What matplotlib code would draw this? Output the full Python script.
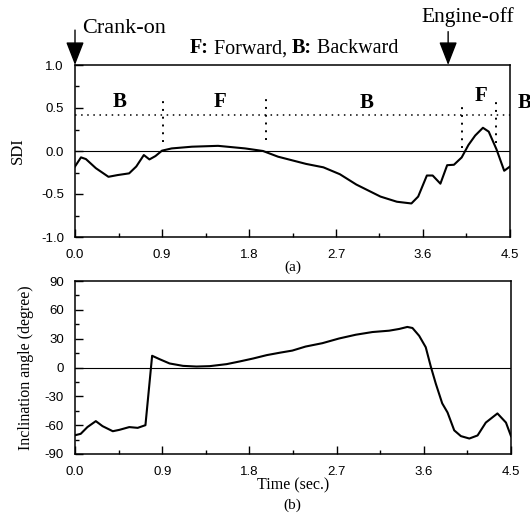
import matplotlib
matplotlib.use("Agg")
import matplotlib.pyplot as plt
from matplotlib.ticker import MultipleLocator

# ---- data ----
sdi_t = [0, 0.062, 0.113, 0.216, 0.346, 0.44, 0.56, 0.634, 0.712, 0.77, 0.832, 0.9,
         1.0, 1.21, 1.48, 1.76, 1.945, 2.1, 2.39, 2.57, 2.74, 2.91, 3.16, 3.33, 3.48,
         3.55, 3.64, 3.70, 3.78, 3.85, 3.92, 4.0, 4.07, 4.14, 4.22, 4.28, 4.36, 4.44, 4.5]
sdi_v = [-0.18, -0.074, -0.094, -0.2, -0.30, -0.28, -0.26, -0.18, -0.047, -0.098, -0.059, 0.004,
         0.03, 0.05, 0.06, 0.03, 0.0, -0.066, -0.15, -0.19, -0.27, -0.39, -0.53, -0.59, -0.61,
         -0.53, -0.285, -0.285, -0.38, -0.165, -0.16, -0.075, 0.07, 0.18, 0.27, 0.225, 0.02, -0.23, -0.18]

ang_t = [0, 0.059, 0.128, 0.215, 0.284, 0.39, 0.457, 0.56, 0.647, 0.727, 0.796, 0.872, 0.976,
         1.115, 1.253, 1.39, 1.565, 1.70, 1.84, 1.98, 2.12, 2.243, 2.38, 2.553, 2.726, 2.898,
         3.07, 3.242, 3.346, 3.43, 3.483, 3.552, 3.62, 3.673, 3.724, 3.79, 3.845, 3.914, 3.983,
         4.07, 4.155, 4.24, 4.36, 4.448, 4.5]
ang_v = [-70.5, -69, -62, -55.8, -61, -66.3, -64.9, -62, -62.8, -60, 12.2, 8.7, 4.2,
         1.7, 1.0, 1.4, 3.5, 6.3, 9.4, 12.9, 15.5, 17.6, 21.8, 25.3, 30.2, 34.1,
         36.9, 38.3, 40.1, 42.2, 41.1, 33, 21.1, 0.7, -16.9, -37.3, -46.8, -65.4, -71.4,
         -73.9, -70.7, -57.3, -47.8, -57.3, -71.4]

threshold = 0.42
boundaries_x = [0.91, 1.98, 4.0, 4.36]
boundaries_lo = [0.11, 0.13, 0.03, 0.09]
boundaries_hi = [0.63, 0.66, 0.53, 0.58]
seg_labels = ['B', 'F', 'B', 'F', 'B']
seg_x = [0.46, 1.5, 3.02, 4.2, 4.58]
seg_y = [0.57, 0.57, 0.56, 0.64, 0.56]
seg_ha = ['center', 'center', 'center', 'center', 'left']

crank_x = 0.0
engine_x = 3.86
legend_parts = [('F:', 'bold'), (' Forward, ', 'normal'), ('B:', 'bold'), (' Backward', 'normal')]

xticks = [0.0, 0.9, 1.8, 2.7, 3.6, 4.5]
sdi_ticks = [-1.0, -0.5, 0.0, 0.5, 1.0]
ang_ticks = [-90, -60, -30, 0, 30, 60, 90]

# ---- figure ----
fig = plt.figure(figsize=(5.30, 5.22), dpi=100)
W, H = 530, 522
ax1 = fig.add_axes([75 / W, 1 - 237 / H, 435 / W, 172 / H])
ax2 = fig.add_axes([75 / W, 1 - 454 / H, 436 / W, 173 / H])

tickfont = dict(family='Liberation Sans', size=9.5)
serif = 'Liberation Serif'

for ax in (ax1, ax2):
    ax.set_xlim(0, 4.5)
    ax.set_xticks(xticks)
    ax.set_xticklabels([f'{v:.1f}' for v in xticks], fontdict=tickfont)
    ax.xaxis.set_minor_locator(MultipleLocator(0.45))
    ax.tick_params(which='both', direction='in', top=False, right=False, width=1.0)
    ax.tick_params(which='major', length=6)
    ax.tick_params(which='minor', length=3)
    ax.tick_params(axis='x', which='both', pad=8.5)
    ax.tick_params(axis='y', which='both', pad=8)
    for s in ax.spines.values():
        s.set_linewidth(1.1)

# top panel
ax1.set_ylim(-1.0, 1.0)
ax1.set_yticks(sdi_ticks)
ax1.set_yticklabels([f'{v:.1f}' for v in sdi_ticks], fontdict=tickfont)
ax1.yaxis.set_minor_locator(MultipleLocator(0.25))
ax1.axhline(0, color='k', lw=0.8)
ax1.plot(sdi_t, sdi_v, color='k', lw=1.5)
ax1.axhline(threshold, color='k', lw=1.1, ls=(0, (1, 3)))
for bx, lo, hi in zip(boundaries_x, boundaries_lo, boundaries_hi):
    ax1.plot([bx, bx], [lo, hi], color='k', lw=1.4, ls=(0, (1, 3)))
for lab, x, y, ha in zip(seg_labels, seg_x, seg_y, seg_ha):
    ax1.text(x, y, lab, family=serif, weight='bold', fontsize=15, ha=ha, va='center',
             clip_on=False)
ax1.set_ylabel('SDI', family=serif, fontsize=12, labelpad=11)
ax1.set_xlabel('(a)', family=serif, fontsize=11, labelpad=0)

tr = ax1.get_xaxis_transform()
arrow = dict(arrowstyle='-|>,head_length=0.9,head_width=0.35', color='k', lw=1.0,
             shrinkA=0, shrinkB=0, mutation_scale=16)
ax1.annotate('', xy=(crank_x, 1.0), xytext=(crank_x, 1.203), xycoords=tr, textcoords=tr,
             arrowprops=arrow, annotation_clip=False)
ax1.annotate('', xy=(engine_x, 1.0), xytext=(engine_x, 1.194), xycoords=tr, textcoords=tr,
             arrowprops=arrow, annotation_clip=False)
ax1.text(0.0154, 1.184, 'Crank-on', transform=ax1.transAxes, family=serif, fontsize=16,
         ha='left', va='baseline')
ax1.text(0.902, 1.252, 'Engine-off', transform=ax1.transAxes, family=serif, fontsize=15.5,
         ha='center', va='baseline')

# composite legend text with bold parts, centred
renderer = fig.canvas.get_renderer()
pieces = []
for txt, wt in legend_parts:
    t = fig.text(0, 0, txt, family=serif, weight=wt, fontsize=14.5, va='baseline')
    pieces.append(t)
widths = [p.get_window_extent(renderer).width for p in pieces]
total = sum(widths)
x0 = 294 - total / 2.0
ybase = H - 53.3
acc = 0.0
for p, w in zip(pieces, widths):
    p.set_transform(fig.dpi_scale_trans)
    p.set_position(((x0 + acc) / 100.0, ybase / 100.0))
    acc += w

# bottom panel
ax2.set_ylim(-90, 90)
ax2.set_yticks(ang_ticks)
ax2.set_yticklabels([str(v) for v in ang_ticks], fontdict=tickfont)
ax2.yaxis.set_minor_locator(MultipleLocator(15))
ax2.axhline(0, color='k', lw=0.8)
ax2.plot(ang_t, ang_v, color='k', lw=1.5)
ax2.set_ylabel('Inclination angle (degree)', family=serif, fontsize=11.5, labelpad=8)
ax2.set_xlabel('Time (sec.)', family=serif, fontsize=11.5, labelpad=0)
fig.text(292 / W, 1 - 505 / H, '(b)', family=serif, fontsize=11, ha='center', va='center')

fig.savefig('out.png', dpi=100)
